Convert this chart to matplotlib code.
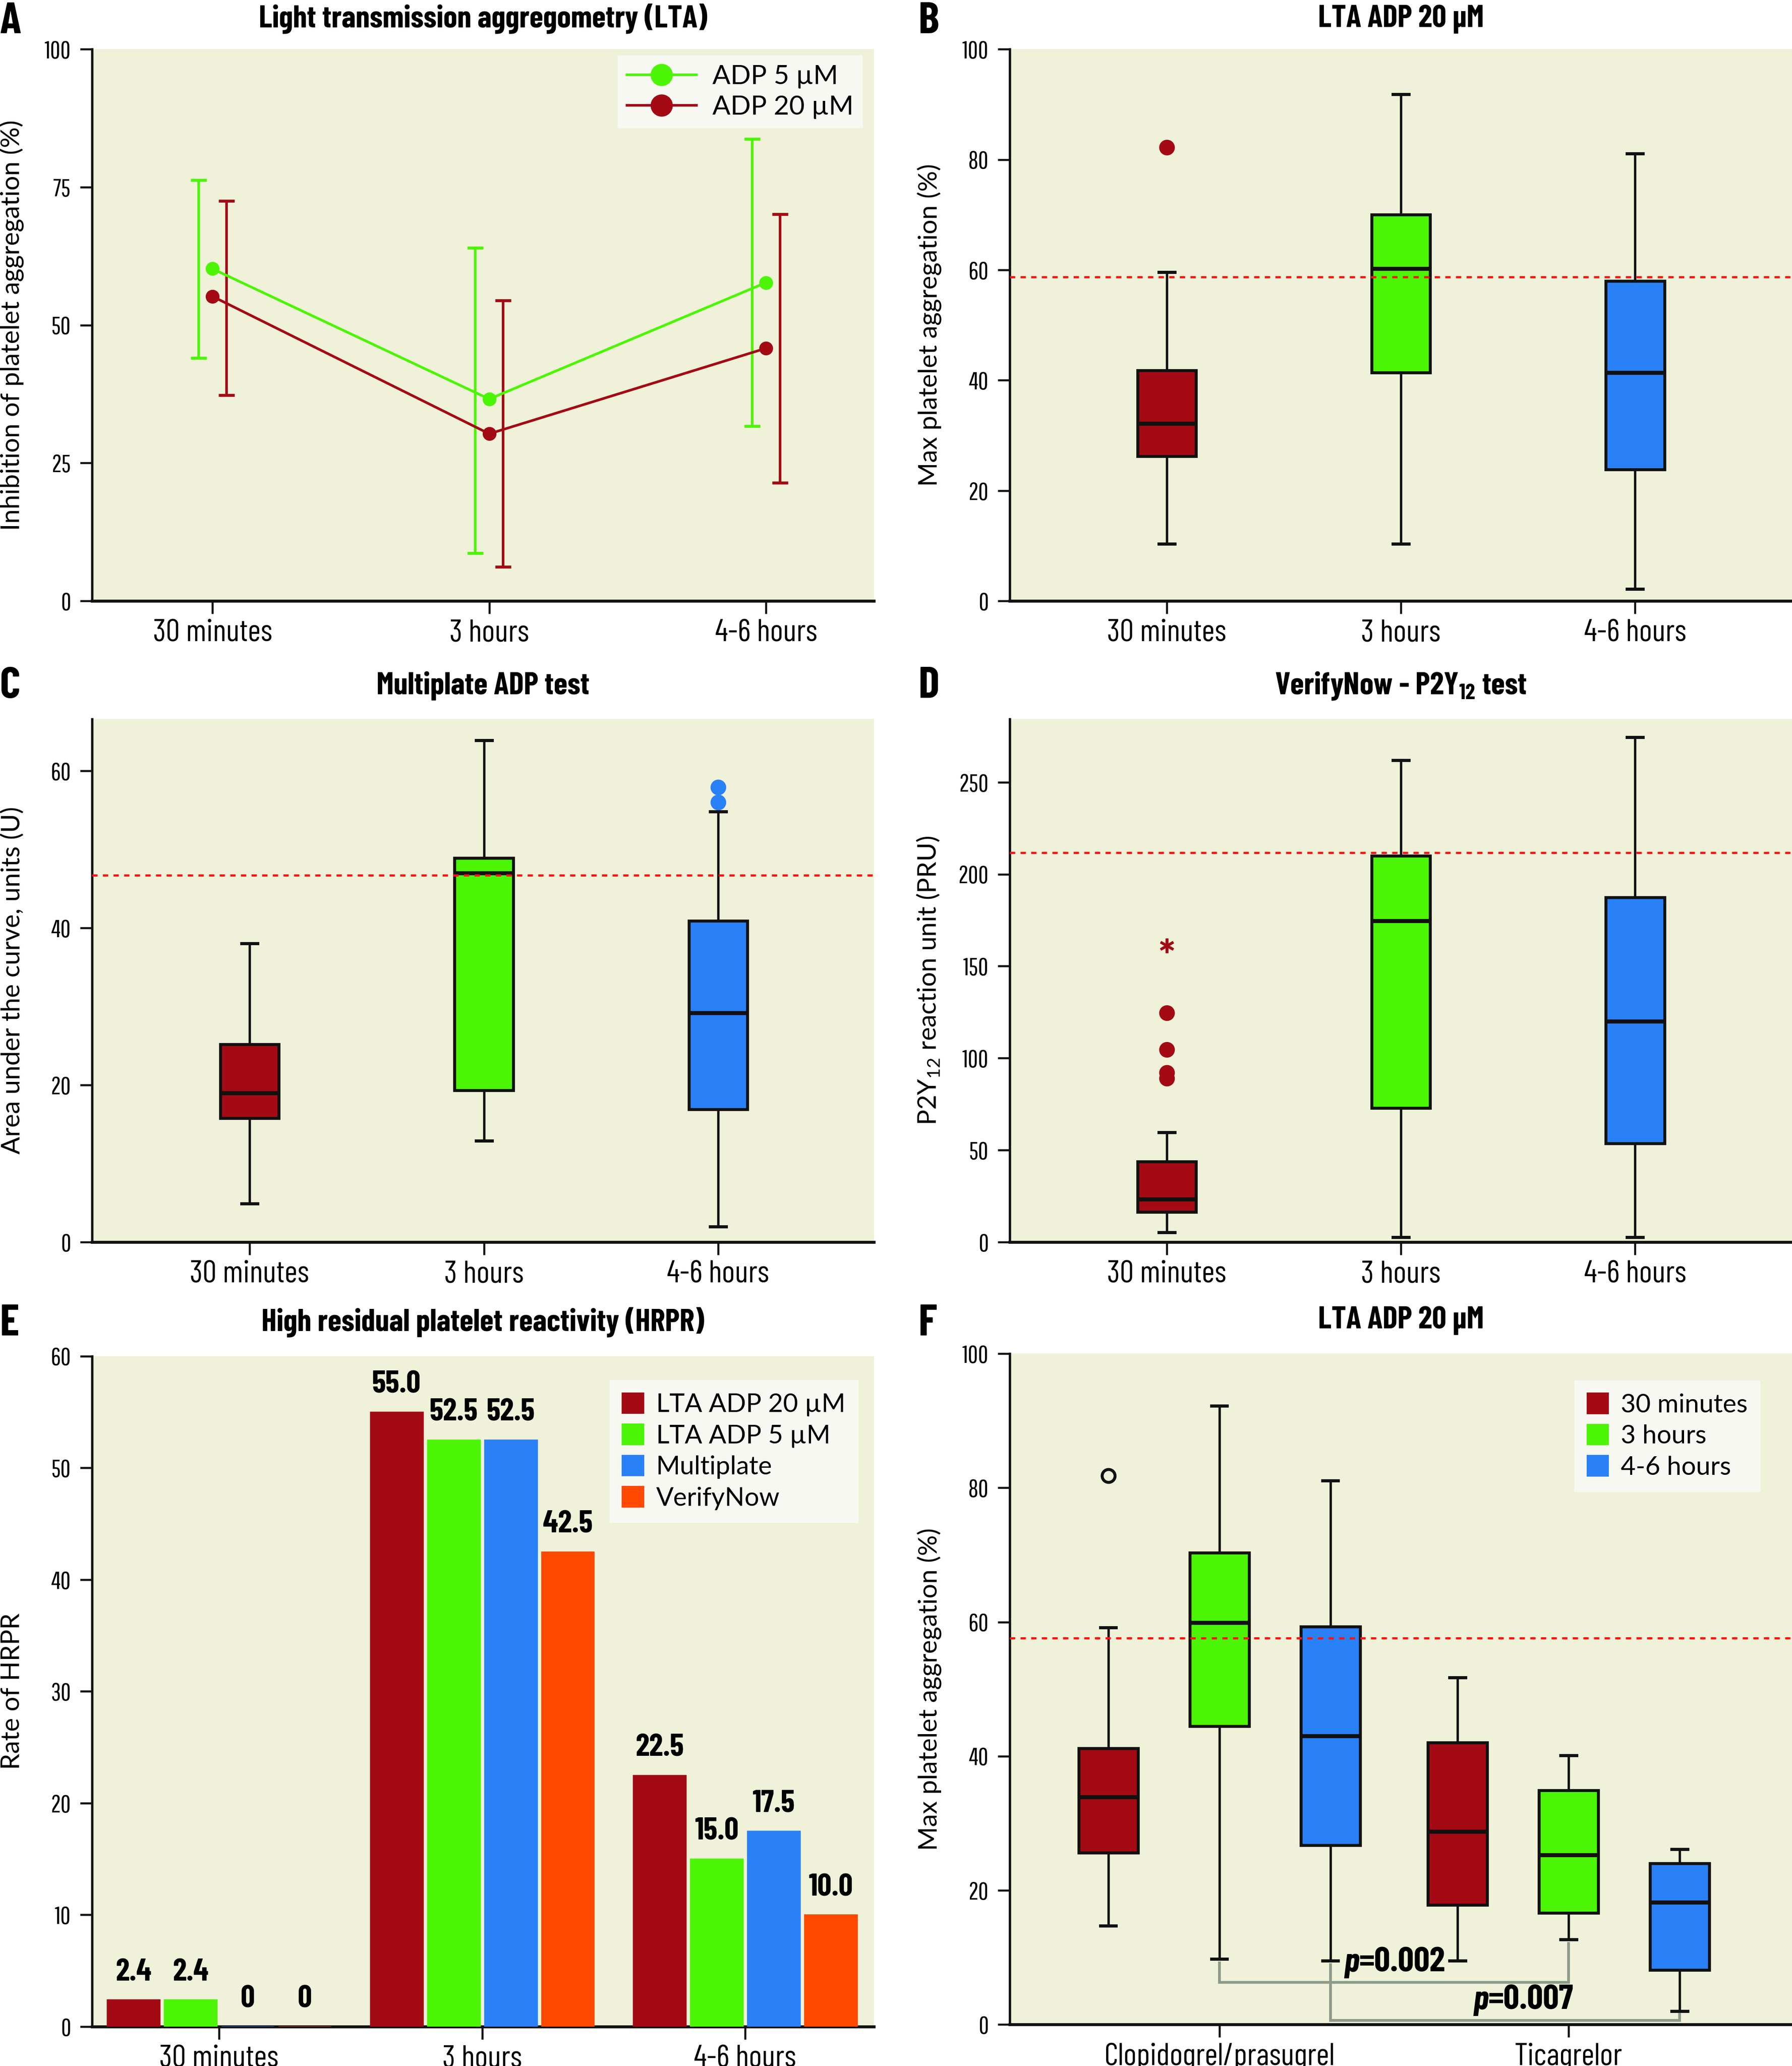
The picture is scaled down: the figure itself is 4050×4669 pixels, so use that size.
import numpy as np
import matplotlib
matplotlib.use("Agg")
import matplotlib.pyplot as plt
from matplotlib.patches import Patch

# ---------------- data ----------------
times = ['30 minutes', '3 hours', '4-6 hours']

# A: inhibition of platelet aggregation (mean, lower and upper error limits)
adp5_mean = [60.2, 36.6, 57.7]
adp5_low = [44.0, 8.7, 31.7]
adp5_high = [76.3, 64.0, 83.7]
adp20_mean = [55.2, 30.3, 45.8]
adp20_low = [37.3, 6.2, 21.4]
adp20_high = [72.5, 54.5, 70.1]

# B: LTA ADP 20 uM, max platelet aggregation
b_lo = [10.4, 10.4, 2.2]
b_q1 = [26.2, 41.4, 23.8]
b_med = [32.2, 60.2, 41.4]
b_q3 = [41.8, 70.0, 58.0]
b_hi = [59.6, 91.8, 81.1]
b_out = [[82.2], [], []]
b_cut = 58.7

# C: Multiplate ADP test
c_lo = [4.9, 12.9, 2.0]
c_q1 = [15.8, 19.3, 16.9]
c_med = [19.0, 47.0, 29.2]
c_q3 = [25.2, 48.9, 40.9]
c_hi = [38.0, 63.9, 54.8]
c_out = [[], [], [56.0, 57.9]]
c_cut = 46.7

# D: VerifyNow P2Y12 test
d_lo = [5.4, 2.6, 2.6]
d_q1 = [16.3, 72.8, 53.6]
d_med = [23.3, 174.6, 120.1]
d_q3 = [43.8, 210.1, 187.4]
d_hi = [59.7, 262.0, 274.6]
d_out = [[89.1, 92.2, 104.6, 124.7], [], []]
d_extreme = 161.1
d_cut = 211.6

# E: rate of HRPR
tests = ['LTA ADP 20 µM', 'LTA ADP 5 µM', 'Multiplate', 'VerifyNow']
hrpr = [[2.4, 55.0, 22.5],
        [2.4, 52.5, 15.0],
        [0.0, 52.5, 17.5],
        [0.0, 42.5, 10.0]]

# F: LTA ADP 20 uM by drug (rows: 30 min, 3 h, 4-6 h; cols: drugs)
drugs = ['Clopidogrel/prasugrel', 'Ticagrelor']
f_lo = [[14.7, 9.5], [9.8, 12.7], [9.5, 2.0]]
f_q1 = [[25.6, 17.8], [44.5, 16.6], [26.7, 8.1]]
f_med = [[33.9, 28.8], [59.9, 25.3], [43.0, 18.2]]
f_q3 = [[41.2, 42.0], [70.3, 34.9], [59.3, 24.0]]
f_hi = [[59.2, 51.7], [92.2, 40.1], [81.1, 26.1]]
f_out = [[[81.8], []], [[], []], [[], []]]
f_cut = 57.6
p_vals = ['0.002', '0.007']

# ---------------- style ----------------
RED = '#A30A14'
GREEN = '#4CF505'
BLUE = '#2A80F7'
ORANGE = '#FF4800'
BG = '#EFF1D8'
EDGE = '#111111'
CUT = '#FF1414'
GREY = '#8E9A8A'
box_colors = [RED, GREEN, BLUE]

NARROW = ['Pathway Gothic One', 'PT Sans Narrow', 'Roboto Condensed', 'DejaVu Sans']
COND = ['Barlow Condensed', 'Roboto Condensed', 'PT Sans Narrow', 'DejaVu Sans']
SANS = ['Lato', 'DejaVu Sans']
plt.rcParams['font.family'] = NARROW
plt.rcParams['mathtext.fontset'] = 'custom'
plt.rcParams['mathtext.rm'] = 'Lato'
plt.rcParams['mathtext.bf'] = 'Barlow Condensed:bold'

W, H = 4050, 4669
fig = plt.figure(figsize=(W / 300, H / 300), dpi=300)


def style_axes(ax, yticks, ylim, xlim, xticks, xlabels, ylabel, title, pad):
    ax.set_facecolor(BG)
    for s in ['top', 'right']:
        ax.spines[s].set_visible(False)
    ax.spines['left'].set_linewidth(1.3)
    ax.spines['bottom'].set_linewidth(1.6)
    ax.spines['left'].set_color(EDGE)
    ax.spines['bottom'].set_color(EDGE)
    ax.set_ylim(*ylim)
    ax.set_xlim(*xlim)
    ax.set_yticks(yticks)
    ax.set_xticks(xticks)
    ax.set_xticklabels(xlabels, family=COND, fontsize=17)
    ax.tick_params(axis='y', length=6.5, width=1.1, pad=5, labelsize=13.5, color=EDGE)
    ax.tick_params(axis='x', length=7, width=1.1, pad=3, color=EDGE)
    ax.set_ylabel(ylabel, family=SANS, fontsize=14)
    ax.yaxis.set_label_coords(-0.087, 0.5)
    ax.set_title(title, family=COND, fontsize=17, fontweight='bold', pad=pad)


def draw_boxes(ax, lo, q1, med, q3, hi, out, pos, colors, width, capw, flier_fill=True):
    stats = [dict(whislo=a, q1=b, med=c, q3=d, whishi=e, fliers=f)
             for a, b, c, d, e, f in zip(lo, q1, med, q3, hi, out)]
    art = ax.bxp(stats, positions=pos, widths=width, capwidths=capw,
                 patch_artist=True, manage_ticks=False,
                 boxprops=dict(edgecolor=EDGE, linewidth=1.6),
                 whiskerprops=dict(color=EDGE, linewidth=1.3),
                 capprops=dict(color=EDGE, linewidth=1.7),
                 medianprops=dict(color=EDGE, linewidth=2.2),
                 flierprops=dict(marker='o', markersize=7.5))
    for patch, c in zip(art['boxes'], colors):
        patch.set_facecolor(c)
    for fl, c in zip(art['fliers'], colors):
        if flier_fill:
            fl.set_markerfacecolor(c)
            fl.set_markeredgecolor(c)
        else:
            fl.set_markerfacecolor('none')
            fl.set_markeredgecolor(EDGE)
            fl.set_markeredgewidth(1.6)
            fl.set_markersize(7)
    return art


def cutoff(ax, y):
    ax.axhline(y, color=CUT, lw=1.2, ls=(0, (2.4, 2.4)), zorder=6)


legend_kw = dict(loc='upper right', borderaxespad=0, frameon=True, fancybox=False,
                 facecolor='#F8F8F3', edgecolor='none', framealpha=1)

x3 = np.arange(3)

# ---------------- A ----------------
axA = fig.add_axes([0.0514, 0.7091, 0.4363, 0.2671])
style_axes(axA, [0, 25, 50, 75, 100], (0, 100), (-0.435, 2.39), x3, times,
           'Inhibition of platelet aggregation (%)',
           'Light transmission aggregometry (LTA)', 12)
for mean, low, high, col, off, lab in [(adp5_mean, adp5_low, adp5_high, GREEN, -0.05, 'ADP 5 µM'),
                                        (adp20_mean, adp20_low, adp20_high, RED, 0.05, 'ADP 20 µM')]:
    mean = np.array(mean)
    yerr = [mean - np.array(low), np.array(high) - mean]
    axA.errorbar(x3 + off, mean, yerr=yerr, fmt='none', ecolor=col, elinewidth=1.4,
                 capsize=4.3, capthick=1.6, zorder=3)
    axA.plot(x3, mean, '-o', color=col, lw=1.4, ms=6.5, zorder=4, label=lab)
axA.legend(bbox_to_anchor=(0.986, 0.989), prop={'family': SANS, 'size': 14.5},
           markerscale=1.7, handlelength=2.6, labelspacing=0.25, borderpad=0.35,
           handletextpad=0.6, **legend_kw)

# ---------------- B ----------------
axB = fig.add_axes([0.5635, 0.7091, 0.4365, 0.2671])
style_axes(axB, [0, 20, 40, 60, 80, 100], (0, 100), (-0.67, 2.67), x3, times,
           'Max platelet aggregation (%)', 'LTA ADP 20 µM', 12)
draw_boxes(axB, b_lo, b_q1, b_med, b_q3, b_hi, b_out, x3, box_colors, 0.25, 0.068)
cutoff(axB, b_cut)

# ---------------- C ----------------
axC = fig.add_axes([0.0514, 0.3988, 0.4363, 0.2532])
style_axes(axC, [0, 20, 40, 60], (0, 66.6), (-0.672, 2.665), x3, times,
           'Area under the curve, units (U)', 'Multiplate ADP test', 13.4)
draw_boxes(axC, c_lo, c_q1, c_med, c_q3, c_hi, c_out, x3, box_colors, 0.25, 0.068)
cutoff(axC, c_cut)

# ---------------- D ----------------
axD = fig.add_axes([0.5635, 0.3988, 0.4365, 0.2532])
style_axes(axD, [0, 50, 100, 150, 200, 250], (0, 284.4), (-0.67, 2.67), x3, times,
           r'P2Y$_{12}$ reaction unit (PRU)', r'VerifyNow - P2Y$_\mathbf{12}$ test', 13.4)
draw_boxes(axD, d_lo, d_q1, d_med, d_q3, d_hi, d_out, x3, box_colors, 0.25, 0.068)
axD.plot([0], [d_extreme], marker=(6, 2, 0), color=RED, ms=8, mew=1.4, ls='none', zorder=4)
cutoff(axD, d_cut)

# ---------------- E ----------------
axE = fig.add_axes([0.0514, 0.0191, 0.4363, 0.3245])
style_axes(axE, [0, 10, 20, 30, 40, 50, 60], (0, 60), (-0.483, 2.49), x3, times,
           'Rate of HRPR', 'High residual platelet reactivity (HRPR)', 13.7)
bar_colors = [RED, GREEN, BLUE, ORANGE]
step, bw = 0.217, 0.2
for i, (vals, col, lab) in enumerate(zip(hrpr, bar_colors, tests)):
    xs = x3 + (i - 1.5) * step
    axE.bar(xs, vals, width=bw, color=col, edgecolor=col, linewidth=0.6, label=lab, zorder=3)
    for xv, v in zip(xs, vals):
        txt = '0' if v == 0 else f'{v:.1f}'
        axE.annotate(txt, (xv, v), xytext=(0, 7), textcoords='offset points',
                     ha='center', va='bottom', family=COND, fontsize=17, fontweight='bold')
axE.legend(handles=[Patch(color=c, label=l) for c, l in zip(bar_colors, tests)],
           bbox_to_anchor=(0.980, 0.964), prop={'family': SANS, 'size': 14},
           handlelength=0.8, handleheight=0.8, labelspacing=0.3, borderpad=0.5,
           handletextpad=0.5, **legend_kw)

# ---------------- F ----------------
axF = fig.add_axes([0.5635, 0.0201, 0.4365, 0.3247])
x2 = np.arange(2)
style_axes(axF, [0, 20, 40, 60, 80, 100], (0, 100), (-0.6, 1.64), x2, drugs,
           'Max platelet aggregation (%)', 'LTA ADP 20 µM', 13.7)
offs = [-0.318, 0.0, 0.318]
for k in range(3):
    draw_boxes(axF, f_lo[k], f_q1[k], f_med[k], f_q3[k], f_hi[k], f_out[k], x2 + offs[k],
               [box_colors[k]] * 2, 0.17, 0.045, flier_fill=False)
cutoff(axF, f_cut)
# significance brackets: 3 hours vs 3 hours, 4-6 hours vs 4-6 hours
brackets = [(offs[1], 1 + offs[1], 9.2, 6.3, 12.1, p_vals[0], 0.40, 9.2),
            (offs[2], 1 + offs[2], 8.9, 0.6, 1.5, p_vals[1], 0.77, 3.6)]
for xa, xb, ya, ymid, yb, p, tx, ty in brackets:
    axF.plot([xa, xa, xb, xb], [ya, ymid, ymid, yb], color=GREY, lw=1.5, zorder=2,
             solid_joinstyle='miter')
    axF.text(tx, ty, 'p', ha='right', va='center', family=COND, fontsize=19,
             fontweight='bold', style='italic', zorder=7)
    axF.text(tx, ty, '=' + p, ha='left', va='center', family=COND, fontsize=19,
             fontweight='bold', zorder=7)
axF.legend(handles=[Patch(color=c, label=l) for c, l in zip(box_colors, times)],
           bbox_to_anchor=(0.960, 0.960), prop={'family': SANS, 'size': 14},
           handlelength=0.8, handleheight=0.8, labelspacing=0.3, borderpad=0.5,
           handletextpad=0.5, **legend_kw)

# panel letters
for letter, x, y in [('A', 0.0, 0.999), ('B', 0.5126, 0.999), ('C', 0.0, 0.6772),
                     ('D', 0.5126, 0.6772), ('E', 0.0, 0.3686), ('F', 0.5126, 0.3686)]:
    fig.text(x, y, letter, ha='left', va='top', family=COND, fontsize=24, fontweight='bold')

fig.savefig('out.png', dpi=300, facecolor='white')
